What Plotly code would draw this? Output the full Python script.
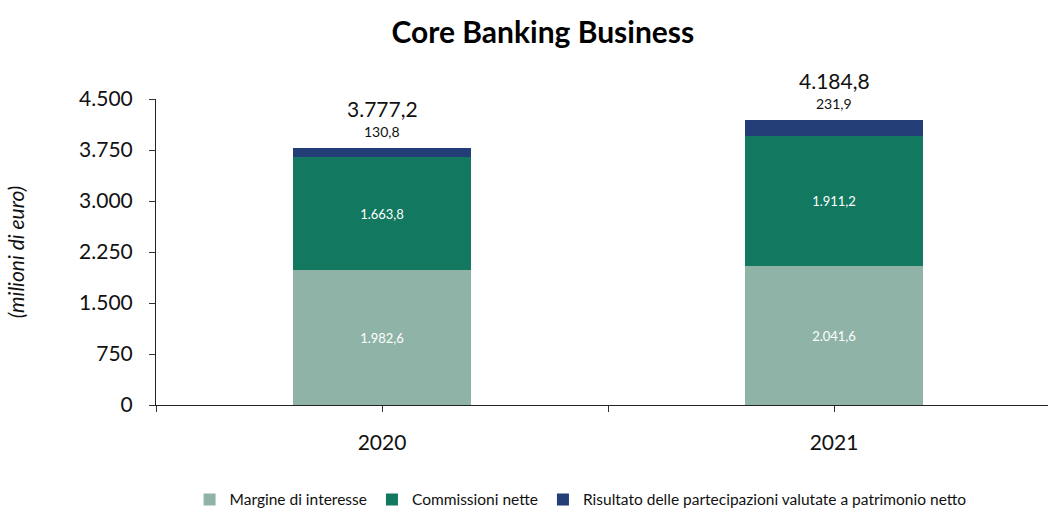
import plotly.graph_objects as go

# Data (milioni di euro)
years = ["2020", "2021"]
margine_interesse = [1982.6, 2041.6]
commissioni_nette = [1663.8, 1911.2]
risultato_partecipazioni = [130.8, 231.9]
totali = [3777.2, 4184.8]
y_ticks = [0, 750, 1500, 2250, 3000, 3750, 4500]

x_pos = list(range(len(years)))

C_LIGHT = "#8fb4a7"
C_GREEN = "#127860"
C_NAVY = "#233d77"
FONT = "Lato"


def it_num(v):
    return f"{v:,.1f}".replace(",", "X").replace(".", ",").replace("X", ".")


fig = go.Figure()

fig.add_trace(go.Bar(
    x=x_pos, y=margine_interesse, name="Margine di interesse",
    marker=dict(color=C_LIGHT, line=dict(width=0)), width=0.394,
    texttemplate="%{y:,.1f}", textposition="inside", insidetextanchor="middle",
    textfont=dict(color="white", size=13, family=FONT),
))
fig.add_trace(go.Bar(
    x=x_pos, y=commissioni_nette, name="Commissioni nette",
    marker=dict(color=C_GREEN, line=dict(width=0)), width=0.394,
    texttemplate="%{y:,.1f}", textposition="inside", insidetextanchor="middle",
    textfont=dict(color="white", size=13, family=FONT),
))
fig.add_trace(go.Bar(
    x=x_pos, y=risultato_partecipazioni,
    name="Risultato delle partecipazioni valutate a patrimonio netto",
    marker=dict(color=C_NAVY, line=dict(width=0)), width=0.394,
    textposition="none",
))

# Value labels above each stack
for xi, tot, part in zip(x_pos, totali, risultato_partecipazioni):
    fig.add_annotation(
        x=xi, y=tot, text=it_num(part),
        showarrow=False, yshift=17, font=dict(size=14, color="#111", family=FONT),
    )
    fig.add_annotation(
        x=xi, y=tot, text=it_num(tot),
        showarrow=False, yshift=40, font=dict(size=21, color="#111", family=FONT),
    )

fig.update_layout(
    width=1048, height=512,
    margin=dict(l=156, r=0, t=99, b=107, autoexpand=False),
    paper_bgcolor="white", plot_bgcolor="white",
    barmode="stack", separators=",.",
    font=dict(family=FONT, color="#111"),
    title=dict(
        text="<b>Core Banking Business</b>", x=0.518, xanchor="center",
        y=0.937, yanchor="middle",
        font=dict(size=30, family="Lato", weight=900, color="#000"),
    ),
    xaxis=dict(
        range=[-0.5, -0.5 + (1048 - 156) / 452],
        tickvals=[-0.5, 0, 0.5, 1, 1.5],
        ticktext=["", years[0], "", years[1], ""],
        ticks="outside", ticklen=6, tickcolor="#333",
        showline=True, linecolor="#222", linewidth=1,
        showgrid=False, zeroline=False, automargin=False,
        tickfont=dict(size=21, family=FONT, color="#111"),
        ticklabelstandoff=13,
    ),
    yaxis=dict(
        range=[0, 4500], tickvals=y_ticks, tickformat=",d",
        ticks="outside", ticklen=6, tickcolor="#333",
        showline=True, linecolor="#222", linewidth=1,
        showgrid=False, zeroline=False, automargin=False,
        tickfont=dict(size=21, family=FONT, color="#111"),
        ticklabelstandoff=12,
        title=dict(text="<i>(milioni di euro)</i>", font=dict(size=21, family=FONT, color="#111"),
                   standoff=48),
    ),
    legend=dict(
        orientation="h", x=0.476, xanchor="center", y=-0.31, yanchor="middle",
        font=dict(size=15.5, family=FONT, color="#111"),
        traceorder="normal", itemwidth=30,
    ),
)

fig.write_html("out.html")
